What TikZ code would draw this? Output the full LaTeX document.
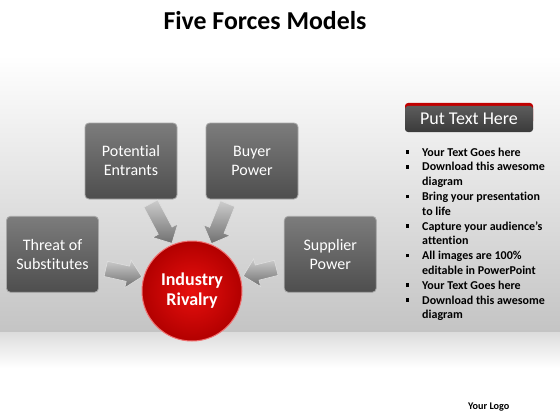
\documentclass[tikz,border=0pt]{standalone}
\usepackage{fontspec}
\setmainfont[Ligatures=NoCommon]{Carlito}
\usetikzlibrary{shapes.arrows}
\definecolor{bandgray}{HTML}{C4C4C4}
\definecolor{lowgray}{HTML}{DCDCDC}
\definecolor{boxtop}{HTML}{7C7C7C}
\definecolor{boxbot}{HTML}{4E4E4E}
\definecolor{boxline}{HTML}{A8A8A8}
\definecolor{redin}{HTML}{E8100E}
\definecolor{redout}{HTML}{B20000}
\definecolor{redrim}{HTML}{F07070}
\definecolor{arrlight}{HTML}{CDCDCD}
\definecolor{arrdark}{HTML}{707070}
\definecolor{hdrtop}{HTML}{5C5C5C}
\definecolor{hdrbot}{HTML}{3A3A3A}
\definecolor{hdrred}{HTML}{C00000}
\newcommand{\sqbul}{\raisebox{2.2pt}{\rule{3.6pt}{3.6pt}}}
\tikzset{
  forcebox/.style={rectangle, rounded corners=4pt, minimum width=92pt, minimum height=76pt,
    draw=boxline, line width=0.8pt, top color=boxtop, bottom color=boxbot,
    text=white, align=center, font=\fontsize{16}{19}\selectfont},
  hubcircle/.style={circle, minimum size=100pt, inner sep=0pt, draw=redrim, line width=1pt,
    inner color=redin, outer color=redout, text=white, align=center,
    font=\bfseries\fontsize{18}{20}\selectfont},
  forcearrow/.style={single arrow, inner xsep=0pt, inner ysep=7.5pt, single arrow head extend=6.5pt,
    draw=white!75!gray, line width=0.6pt, top color=arrlight, bottom color=arrdark},
  hdrbox/.style={rectangle, rounded corners=3pt, minimum width=128pt, minimum height=26pt,
    top color=hdrtop, bottom color=hdrbot, text=white, font=\fontsize{18}{20}\selectfont},
}
\begin{document}
\begin{tikzpicture}[x=1pt,y=-1pt]
\useasboundingbox (0,0) rectangle (560,420);
\fill[white] (0,0) rectangle (560,420);
\shade[top color=white, bottom color=bandgray] (0,55) rectangle (560,332);
\shade[top color=lowgray, bottom color=white] (0,332) rectangle (560,368);

\node[font=\bfseries\fontsize{25.8}{28}\selectfont, anchor=base] (title) at (265,30) {Five Forces Models};

\node[forcebox] (pe) at (131,161) {Potential\\Entrants};
\node[forcebox] (bp) at (252,161) {Buyer\\Power};
\node[forcebox] (ts) at (52.5,254.3) {Threat of\\Substitutes};
\node[forcebox] (sp) at (330.3,254.3) {Supplier\\Power};

\node[forcearrow, minimum height=45pt, rotate=-62] (a1) at (159.5,220) {};
\node[forcearrow, minimum height=43pt, rotate=-112] (a2) at (221,220) {};
\node[forcearrow, minimum height=37pt, rotate=-12.5] (a3) at (120,272) {};
\node[forcearrow, minimum height=34pt, rotate=-166] (a4) at (263.5,271) {};

\node[hubcircle] (ir) at (192,291) {Industry\\Rivalry};

\fill[hdrred, rounded corners=3pt] (405,103) rectangle (533,124);
\node[hdrbox] (hdr) at (469,119) {Put Text Here};

\node[anchor=north west, inner sep=0pt, font=\bfseries\fontsize{12}{14.8}\selectfont] (list) at (405.5,145.5) {%
\renewcommand{\arraystretch}{1}%
\begin{tabular}{@{}p{16.5pt}@{}l@{}}
\sqbul & Your Text Goes here\\
\sqbul & Download this awesome\\
 & diagram\\
\sqbul & Bring your presentation\\
 & to life\\
\sqbul & Capture your audience’s\\
 & attention\\
\sqbul & All images are 100\%\\
 & editable in PowerPoint\\
\sqbul & Your Text Goes here\\
\sqbul & Download this awesome\\
 & diagram
\end{tabular}};

\node[anchor=base west, inner sep=0pt, font=\bfseries\fontsize{10.2}{12}\selectfont] (logo) at (468,409) {Your Logo};
\end{tikzpicture}
\end{document}
